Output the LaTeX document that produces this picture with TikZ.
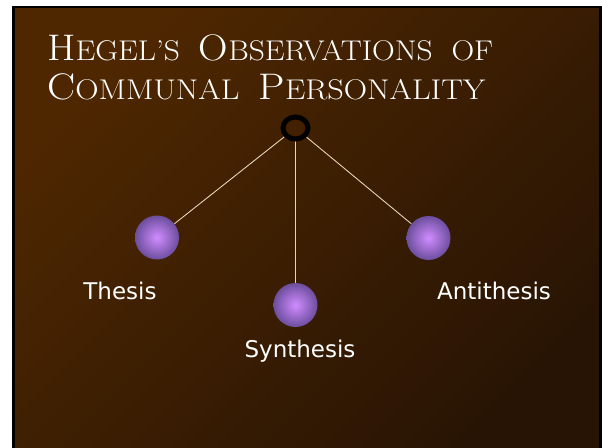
\documentclass[tikz,border=0pt]{standalone}
\usepackage{fontspec}
\newfontfamily\labelfont{DejaVu Sans}
\usetikzlibrary{positioning,shapes.geometric}

\definecolor{slidetop}{RGB}{78,39,1}
\definecolor{slidebottom}{RGB}{40,20,4}
\definecolor{ballin}{RGB}{208,140,255}
\definecolor{ballout}{RGB}{108,78,158}
\definecolor{linkline}{RGB}{228,212,184}

% first letter large, the rest as smaller capitals
\newcommand\capword[2]{{\fontsize{37}{38}\selectfont#1}{\fontsize{28.5}{30}\selectfont#2}}

\begin{document}
\begin{tikzpicture}[x=1pt, y=-1pt,
  ball/.style={circle, minimum size=44pt, inner sep=0pt, inner color=ballin, outer color=ballout},
  word/.style={text=white, font=\labelfont\fontsize{23}{26}\selectfont, anchor=base, inner sep=0pt},
  heading/.style={text=white, anchor=base west, inner sep=0pt},
  link/.style={draw=linkline, line width=0.9pt}]
  \useasboundingbox (0,0) rectangle (602,447);
  \fill[white] (0,0) rectangle (602,447);
  \shade[top color=slidetop, bottom color=slidebottom, shading angle=45] (13.5,7.2) rectangle (600.5,470);
  \draw[line width=2.5pt] (13.5,7.2) rectangle (600.5,470);

  % title
  \node (title1) [heading] at (47,60) {\scalebox{1.105}[1]{\capword{H}{EGEL'S}\hspace{17pt}\capword{O}{BSERVATIONS}\hspace{17pt}\capword{}{OF}}};
  \node (title2) [heading] at (47,99) {\scalebox{1.135}[1]{\capword{C}{OMMUNAL}\hspace{17pt}\capword{P}{ERSONALITY}}};

  % the three spheres
  \node (thesis) [ball] at (157,237.5) {};
  \node (synthesis) [ball] at (295.5,305) {};
  \node (antithesis) [ball] at (428.5,238) {};

  \node (ring) [ellipse, minimum width=25pt, minimum height=22pt, inner sep=0pt] at (295.5,128) {};
  \draw[link] (ring) -- (thesis);
  \draw[link] (ring) -- (synthesis);
  \draw[link] (ring) -- (antithesis);
  \draw[line width=5pt] (ring.center) ellipse [x radius=12.5pt, y radius=11pt];

  \node (thesislabel) [word] at (120,299) {Thesis};
  \node (synthesislabel) [word] at (300,357) {Synthesis};
  \node (antithesislabel) [word] at (494,299) {Antithesis};
\end{tikzpicture}
\end{document}
